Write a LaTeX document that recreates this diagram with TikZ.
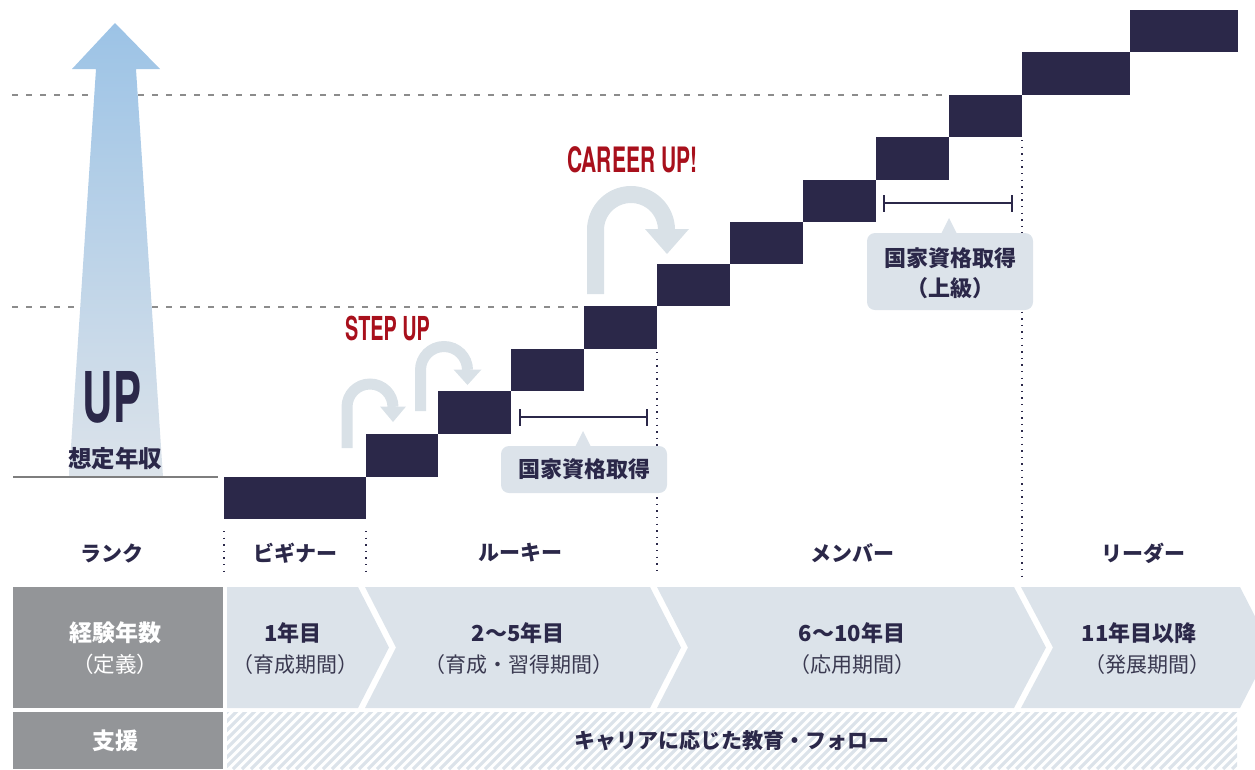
\documentclass[tikz,border=0pt]{standalone}
\usepackage{fontspec}
\setmainfont{Noto Sans CJK JP}
\newfontfamily\condfont[FakeStretch=0.6]{TeX Gyre Heros}
\definecolor{navy}{HTML}{2B2849}
\definecolor{redc}{HTML}{A8101C}
\definecolor{lightc}{HTML}{DCE3EA}
\definecolor{curvc}{HTML}{D9E1E7}
\definecolor{cellgray}{HTML}{939598}
\definecolor{dashgray}{HTML}{8C8C8C}
\definecolor{subc}{HTML}{3A3950}
\definecolor{arrowtop}{HTML}{9CC3E6}
\definecolor{arrowbot}{HTML}{DCE3EA}
\begin{document}
\begin{tikzpicture}[x=1pt,y=-1pt,
  stepbox/.style={fill=navy},
  hdash/.style={dashgray,line width=1.2pt,dash pattern=on 6pt off 8pt},
  vdot/.style={navy,line width=1.6pt,dash pattern=on 1.4pt off 5.2pt},
  curv/.style={curvc},
  bracketline/.style={navy,line width=2.8pt},
  rank/.style={inner sep=0,text=navy,font=\fontsize{21}{24}\selectfont\bfseries},
  ttl/.style={inner sep=0,text=navy,font=\fontsize{22}{26}\selectfont\bfseries},
  sub/.style={inner sep=0,text=subc,font=\fontsize{21}{25}\selectfont},
  wttl/.style={inner sep=0,text=white,font=\fontsize{23}{26}\selectfont\bfseries},
  wsub/.style={inner sep=0,text=white,font=\fontsize{21.5}{25}\selectfont},
  bubtxt/.style={inner sep=0,text=navy,font=\fontsize{22}{26}\selectfont\bfseries},
  hatch/.style={lightc,line width=3.2pt},
  chev/.style={fill=lightc}
]
\useasboundingbox (0,0) rectangle (1255,769);
\clip (0,0) rectangle (1255,769);

% dashed guide lines
\draw[hdash] (12,95) -- (947,95);
\draw[hdash] (12,307) -- (582,307);

% gradient arrow
\shade[top color=arrowtop, bottom color=arrowbot]
  (115,23) -- (160,69) -- (136,69) -- (163,477) -- (69,477) -- (96,69) -- (72,69) -- cycle;

% baseline
\draw[dashgray!90!black,line width=2.4pt] (13,477) -- (218,477);

\node[inner sep=0,text=navy,font=\condfont\bfseries\fontsize{70}{70}\selectfont] (up) at (112,397) {UP};
\node[inner sep=0,text=navy,font=\fontsize{23.5}{26}\selectfont\bfseries] (nenshu) at (115,459) {想定年収};

% steps
\foreach \xa/\ya/\xb/\yb in {224/477/366/519, 366/434/438/477, 438/391/511/434, 511/349/584/391,
  584/306/657/349, 657/264/730/306, 730/222/803/264, 803/180/876/222, 876/137/949/180,
  949/95/1022/137, 1022/52/1130/95, 1130/10/1238/52}
  \fill[stepbox] (\xa,\ya) rectangle (\xb,\yb);

% dotted verticals
\draw[vdot] (224,531) -- (224,576);
\draw[vdot] (366,531) -- (366,576);
\draw[vdot] (657,352) -- (657,576);
\draw[vdot] (1022,140) -- (1022,579);

% curved arrows
\draw[curv,line width=11pt] (347,448) -- (347,407) .. controls (347,394.3) and (357.3,384) .. (370,384) .. controls (382.7,384) and (393,394.3) .. (393,407);
\fill[curv] (380,406.5) -- (406,406.5) -- (393,422) -- cycle;
\draw[curv,line width=11pt] (420.5,411) -- (420.5,370) .. controls (420.5,357) and (431,346.5) .. (444,346.5) .. controls (457,346.5) and (467.5,357) .. (467.5,370);
\fill[curv] (453.5,369.5) -- (481.5,369.5) -- (467.5,385) -- cycle;
\draw[curv,line width=17pt] (595.5,294) -- (595.5,230) .. controls (595.5,210.4) and (611.4,194.5) .. (631,194.5) .. controls (650.6,194.5) and (666.5,210.4) .. (666.5,230);
\fill[curv] (645,229) -- (689,229) -- (667,254) -- cycle;

\node[inner sep=0,text=redc,font=\condfont\bfseries\fontsize{33}{33}\selectfont,anchor=west] (stepup) at (345,328) {STEP UP};
\node[inner sep=0,text=redc,font=\condfont\bfseries\fontsize{35}{35}\selectfont,anchor=west] (careerup) at (567,160) {CAREER UP!};

% bracket 1 and bubble 1
\draw[bracketline] (520,417) -- (647,417);
\draw[bracketline] (520,409) -- (520,426);
\draw[bracketline] (647,409) -- (647,426);
\fill[lightc] (575,447) -- (583,431) -- (591,447) -- cycle;
\node[fill=lightc,rounded corners=8pt,minimum width=166pt,minimum height=47pt,inner sep=0] (bub1) at (584,469.5) {};
\node[bubtxt] (bub1t) at (bub1.center) {国家資格取得};

% bracket 2 and bubble 2
\draw[bracketline] (884,203) -- (1012,203);
\draw[bracketline] (884,195) -- (884,212);
\draw[bracketline] (1012,195) -- (1012,212);
\fill[lightc] (941,234) -- (949,218) -- (957,234) -- cycle;
\node[fill=lightc,rounded corners=8pt,minimum width=166pt,minimum height=77pt,inner sep=0] (bub2) at (950,271.5) {};
\node[bubtxt] (bub2a) at (950,258) {国家資格取得};
\node[bubtxt] (bub2b) at (950,288) {（上級）};

% rank row
\node[rank] (r0) at (112,553) {ランク};
\node[rank] (r1) at (295,553) {ビギナー};
\node[rank] (r2) at (520,553) {ルーキー};
\node[rank] (r3) at (852,553) {メンバー};
\node[rank] (r4) at (1143,553) {リーダー};

% table left cells
\fill[cellgray] (13,587) rectangle (223,708);
\fill[cellgray] (13,712) rectangle (223,769);
\node[wttl] (k1) at (115,633) {経験年数};
\node[wsub] (k2) at (115,664) {（定義）};
\node[wttl] (s1) at (115,741) {支援};

% chevrons
\fill[chev] (227,587) -- (358,587) -- (389,647.5) -- (358,708) -- (227,708) -- cycle;
\fill[chev] (365,587) -- (650,587) -- (681,647.5) -- (650,708) -- (365,708) -- (396,647.5) -- cycle;
\fill[chev] (657,587) -- (1014,587) -- (1046,647.5) -- (1014,708) -- (657,708) -- (688,647.5) -- cycle;
\fill[chev] (1021,587) -- (1240,587) -- (1271,647.5) -- (1240,708) -- (1021,708) -- (1053,647.5) -- cycle;

\node[ttl] (c1a) at (293,633) {1年目};
\node[sub] (c1b) at (295,665) {（育成期間）};
\node[ttl] (c2a) at (518,633) {2～5年目};
\node[sub] (c2b) at (519,665) {（育成・習得期間）};
\node[ttl] (c3a) at (852,633) {6～10年目};
\node[sub] (c3b) at (852,665) {（応用期間）};
\node[ttl] (c4a) at (1139,633) {11年目以降};
\node[sub] (c4b) at (1147,665) {（発展期間）};

% hatched support row
\begin{scope}
\clip (227,712) rectangle (1237,769);
\foreach \i in {0,...,120}
  \draw[hatch] (170+\i*9,769) -- ++(60,-60);
\end{scope}
\node[ttl,font=\fontsize{21}{25}\selectfont\bfseries] (sup) at (732,741) {キャリアに応じた教育・フォロー};
\end{tikzpicture}
\end{document}
